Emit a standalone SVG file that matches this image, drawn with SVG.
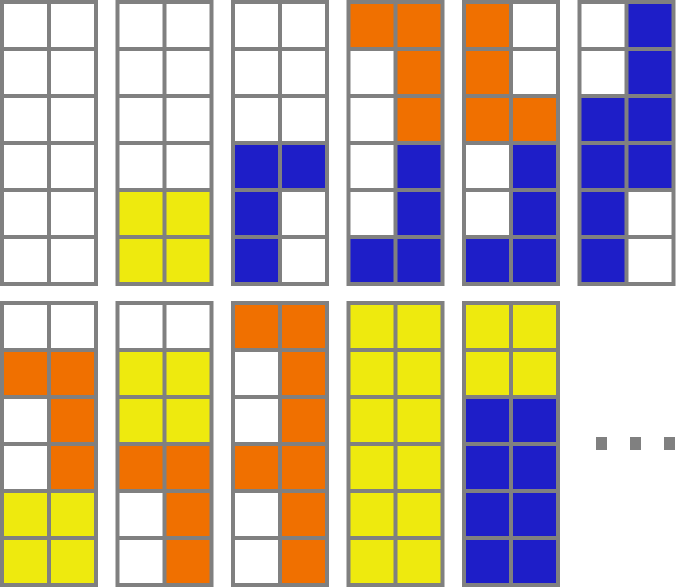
<svg xmlns="http://www.w3.org/2000/svg" width="676" height="587" viewBox="0 0 676 587">
<style>
.f{fill:#808080}
.W{fill:#ffffff}
.Y{fill:#eeea0e}
.O{fill:#f07000}
.B{fill:#1e1ec8}
.d{fill:#808080}
</style>
<defs>
<rect id="frame" class="f" x="0" y="0" width="98" height="286"/>
</defs>
<rect width="676" height="587" fill="#ffffff"/>
<g id="p1" transform="translate(0,0)">
<use href="#frame"/>
<rect class="W" x="4" y="4" width="43" height="43"/><rect class="W" x="51" y="4" width="43" height="43"/>
<rect class="W" x="4" y="51" width="43" height="43"/><rect class="W" x="51" y="51" width="43" height="43"/>
<rect class="W" x="4" y="98" width="43" height="43"/><rect class="W" x="51" y="98" width="43" height="43"/>
<rect class="W" x="4" y="145" width="43" height="43"/><rect class="W" x="51" y="145" width="43" height="43"/>
<rect class="W" x="4" y="192" width="43" height="43"/><rect class="W" x="51" y="192" width="43" height="43"/>
<rect class="W" x="4" y="239" width="43" height="43"/><rect class="W" x="51" y="239" width="43" height="43"/>
</g>
<g id="p2" transform="translate(115.5,0)">
<use href="#frame"/>
<rect class="W" x="4" y="4" width="43" height="43"/><rect class="W" x="51" y="4" width="43" height="43"/>
<rect class="W" x="4" y="51" width="43" height="43"/><rect class="W" x="51" y="51" width="43" height="43"/>
<rect class="W" x="4" y="98" width="43" height="43"/><rect class="W" x="51" y="98" width="43" height="43"/>
<rect class="W" x="4" y="145" width="43" height="43"/><rect class="W" x="51" y="145" width="43" height="43"/>
<rect class="Y" x="4" y="192" width="43" height="43"/><rect class="Y" x="51" y="192" width="43" height="43"/>
<rect class="Y" x="4" y="239" width="43" height="43"/><rect class="Y" x="51" y="239" width="43" height="43"/>
</g>
<g id="p3" transform="translate(231,0)">
<use href="#frame"/>
<rect class="W" x="4" y="4" width="43" height="43"/><rect class="W" x="51" y="4" width="43" height="43"/>
<rect class="W" x="4" y="51" width="43" height="43"/><rect class="W" x="51" y="51" width="43" height="43"/>
<rect class="W" x="4" y="98" width="43" height="43"/><rect class="W" x="51" y="98" width="43" height="43"/>
<rect class="B" x="4" y="145" width="43" height="43"/><rect class="B" x="51" y="145" width="43" height="43"/>
<rect class="B" x="4" y="192" width="43" height="43"/><rect class="W" x="51" y="192" width="43" height="43"/>
<rect class="B" x="4" y="239" width="43" height="43"/><rect class="W" x="51" y="239" width="43" height="43"/>
</g>
<g id="p4" transform="translate(346.5,0)">
<use href="#frame"/>
<rect class="O" x="4" y="4" width="43" height="43"/><rect class="O" x="51" y="4" width="43" height="43"/>
<rect class="W" x="4" y="51" width="43" height="43"/><rect class="O" x="51" y="51" width="43" height="43"/>
<rect class="W" x="4" y="98" width="43" height="43"/><rect class="O" x="51" y="98" width="43" height="43"/>
<rect class="W" x="4" y="145" width="43" height="43"/><rect class="B" x="51" y="145" width="43" height="43"/>
<rect class="W" x="4" y="192" width="43" height="43"/><rect class="B" x="51" y="192" width="43" height="43"/>
<rect class="B" x="4" y="239" width="43" height="43"/><rect class="B" x="51" y="239" width="43" height="43"/>
</g>
<g id="p5" transform="translate(462,0)">
<use href="#frame"/>
<rect class="O" x="4" y="4" width="43" height="43"/><rect class="W" x="51" y="4" width="43" height="43"/>
<rect class="O" x="4" y="51" width="43" height="43"/><rect class="W" x="51" y="51" width="43" height="43"/>
<rect class="O" x="4" y="98" width="43" height="43"/><rect class="O" x="51" y="98" width="43" height="43"/>
<rect class="W" x="4" y="145" width="43" height="43"/><rect class="B" x="51" y="145" width="43" height="43"/>
<rect class="W" x="4" y="192" width="43" height="43"/><rect class="B" x="51" y="192" width="43" height="43"/>
<rect class="B" x="4" y="239" width="43" height="43"/><rect class="B" x="51" y="239" width="43" height="43"/>
</g>
<g id="p6" transform="translate(577.5,0)">
<use href="#frame"/>
<rect class="W" x="4" y="4" width="43" height="43"/><rect class="B" x="51" y="4" width="43" height="43"/>
<rect class="W" x="4" y="51" width="43" height="43"/><rect class="B" x="51" y="51" width="43" height="43"/>
<rect class="B" x="4" y="98" width="43" height="43"/><rect class="B" x="51" y="98" width="43" height="43"/>
<rect class="B" x="4" y="145" width="43" height="43"/><rect class="B" x="51" y="145" width="43" height="43"/>
<rect class="B" x="4" y="192" width="43" height="43"/><rect class="W" x="51" y="192" width="43" height="43"/>
<rect class="B" x="4" y="239" width="43" height="43"/><rect class="W" x="51" y="239" width="43" height="43"/>
</g>
<g id="p7" transform="translate(0,301)">
<use href="#frame"/>
<rect class="W" x="4" y="4" width="43" height="43"/><rect class="W" x="51" y="4" width="43" height="43"/>
<rect class="O" x="4" y="51" width="43" height="43"/><rect class="O" x="51" y="51" width="43" height="43"/>
<rect class="W" x="4" y="98" width="43" height="43"/><rect class="O" x="51" y="98" width="43" height="43"/>
<rect class="W" x="4" y="145" width="43" height="43"/><rect class="O" x="51" y="145" width="43" height="43"/>
<rect class="Y" x="4" y="192" width="43" height="43"/><rect class="Y" x="51" y="192" width="43" height="43"/>
<rect class="Y" x="4" y="239" width="43" height="43"/><rect class="Y" x="51" y="239" width="43" height="43"/>
</g>
<g id="p8" transform="translate(115.5,301)">
<use href="#frame"/>
<rect class="W" x="4" y="4" width="43" height="43"/><rect class="W" x="51" y="4" width="43" height="43"/>
<rect class="Y" x="4" y="51" width="43" height="43"/><rect class="Y" x="51" y="51" width="43" height="43"/>
<rect class="Y" x="4" y="98" width="43" height="43"/><rect class="Y" x="51" y="98" width="43" height="43"/>
<rect class="O" x="4" y="145" width="43" height="43"/><rect class="O" x="51" y="145" width="43" height="43"/>
<rect class="W" x="4" y="192" width="43" height="43"/><rect class="O" x="51" y="192" width="43" height="43"/>
<rect class="W" x="4" y="239" width="43" height="43"/><rect class="O" x="51" y="239" width="43" height="43"/>
</g>
<g id="p9" transform="translate(231,301)">
<use href="#frame"/>
<rect class="O" x="4" y="4" width="43" height="43"/><rect class="O" x="51" y="4" width="43" height="43"/>
<rect class="W" x="4" y="51" width="43" height="43"/><rect class="O" x="51" y="51" width="43" height="43"/>
<rect class="W" x="4" y="98" width="43" height="43"/><rect class="O" x="51" y="98" width="43" height="43"/>
<rect class="O" x="4" y="145" width="43" height="43"/><rect class="O" x="51" y="145" width="43" height="43"/>
<rect class="W" x="4" y="192" width="43" height="43"/><rect class="O" x="51" y="192" width="43" height="43"/>
<rect class="W" x="4" y="239" width="43" height="43"/><rect class="O" x="51" y="239" width="43" height="43"/>
</g>
<g id="p10" transform="translate(346.5,301)">
<use href="#frame"/>
<rect class="Y" x="4" y="4" width="43" height="43"/><rect class="Y" x="51" y="4" width="43" height="43"/>
<rect class="Y" x="4" y="51" width="43" height="43"/><rect class="Y" x="51" y="51" width="43" height="43"/>
<rect class="Y" x="4" y="98" width="43" height="43"/><rect class="Y" x="51" y="98" width="43" height="43"/>
<rect class="Y" x="4" y="145" width="43" height="43"/><rect class="Y" x="51" y="145" width="43" height="43"/>
<rect class="Y" x="4" y="192" width="43" height="43"/><rect class="Y" x="51" y="192" width="43" height="43"/>
<rect class="Y" x="4" y="239" width="43" height="43"/><rect class="Y" x="51" y="239" width="43" height="43"/>
</g>
<g id="p11" transform="translate(462,301)">
<use href="#frame"/>
<rect class="Y" x="4" y="4" width="43" height="43"/><rect class="Y" x="51" y="4" width="43" height="43"/>
<rect class="Y" x="4" y="51" width="43" height="43"/><rect class="Y" x="51" y="51" width="43" height="43"/>
<rect class="B" x="4" y="98" width="43" height="43"/><rect class="B" x="51" y="98" width="43" height="43"/>
<rect class="B" x="4" y="145" width="43" height="43"/><rect class="B" x="51" y="145" width="43" height="43"/>
<rect class="B" x="4" y="192" width="43" height="43"/><rect class="B" x="51" y="192" width="43" height="43"/>
<rect class="B" x="4" y="239" width="43" height="43"/><rect class="B" x="51" y="239" width="43" height="43"/>
</g>
<g id="ellipsis">
<rect class="d" x="596" y="437" width="11" height="13"/>
<rect class="d" x="630" y="437" width="11" height="13"/>
<rect class="d" x="664" y="437" width="11" height="13"/>
</g>
</svg>
